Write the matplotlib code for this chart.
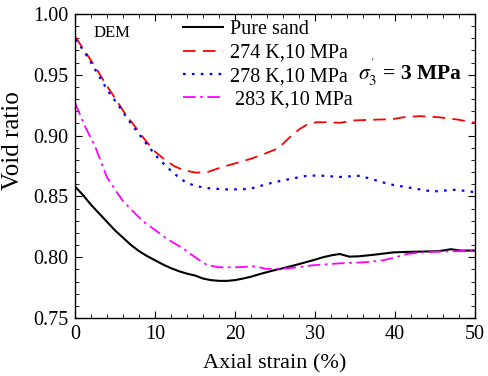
import numpy as np
import matplotlib
matplotlib.use("Agg")
import matplotlib.pyplot as plt
from matplotlib.ticker import MultipleLocator, FormatStrFormatter

plt.rcParams['font.family'] = ['Liberation Serif', 'DejaVu Serif']
plt.rcParams['mathtext.fontset'] = 'stix'

# Data (axial strain %, void ratio)
x_pure = [0, 1, 2, 3, 4, 5, 6, 7, 8, 9, 10, 11, 12, 13, 14, 15, 16, 17, 18, 19, 20,
          21, 22, 23, 24.7, 26, 27.5, 28.9, 30, 31, 32, 33.1, 34.3, 35.5, 37.3, 39.8, 41.5, 43.6, 45.5, 47, 48.2, 50]
y_pure = [0.858, 0.851, 0.843, 0.836, 0.829, 0.822, 0.816, 0.810, 0.805, 0.801, 0.7975, 0.794, 0.791, 0.7885, 0.7865, 0.785,
          0.7825, 0.7812, 0.7806, 0.7806, 0.7812, 0.7825, 0.784, 0.786, 0.789, 0.791, 0.7935, 0.796, 0.798, 0.8, 0.8015,
          0.8027, 0.8005, 0.8008, 0.802, 0.804, 0.8044, 0.8047, 0.805, 0.8066, 0.8055, 0.8055]

x_274 = [0, 1.25, 2.5, 3.75, 5, 6.25, 7.5, 8.75, 10, 11.25, 12.5, 13.75, 15.2, 16.7, 18.3, 20.8, 22,
         23.5, 25, 25.6, 26.9, 28, 29, 30.2, 31.5, 33.1, 35, 37.2, 39.7, 41, 43.1, 45.6, 48, 50]
y_274 = [0.9813, 0.969, 0.9567, 0.943, 0.9307, 0.918, 0.9073, 0.8964, 0.8868, 0.880, 0.8745, 0.8712, 0.8695, 0.8703,
         0.874, 0.8786, 0.881, 0.8845, 0.8885, 0.8907, 0.899, 0.905, 0.909, 0.911, 0.911, 0.9105, 0.9125, 0.913,
         0.9135, 0.915, 0.916, 0.915, 0.913, 0.9105]

x_278 = [0, 0.4, 1.67, 2.9, 4.17, 5.4, 6.67, 7.9, 9.17, 10.4, 11.67, 12.9, 13.75, 15, 16.7, 18.75, 20.8, 22,
         24.8, 27, 29, 30.5, 33.1, 35.6, 37.5, 39.3, 42, 44.7, 47.6, 50]
y_278 = [0.979, 0.976, 0.9636, 0.9498, 0.936, 0.925, 0.9128, 0.902, 0.891, 0.8813, 0.873, 0.866, 0.862, 0.8586,
         0.8567, 0.8558, 0.8558, 0.8565, 0.8615, 0.8645, 0.867, 0.8672, 0.866, 0.867, 0.8635, 0.860, 0.857, 0.854,
         0.8555, 0.8535]

x_283 = [0, 1.25, 2.5, 3.96, 5, 6, 7.29, 8.5, 10, 11.5, 13.5, 15, 16.5, 18, 19.8, 21, 22.6, 23.8, 25,
         26.8, 29.7, 33.1, 36.5, 38.5, 39.8, 41.5, 43.5, 45.7, 48, 50]
y_283 = [0.9266, 0.9073, 0.891, 0.866, 0.8555, 0.846, 0.8374, 0.8295, 0.8224, 0.815, 0.8073, 0.8, 0.7936, 0.7918,
         0.7917, 0.792, 0.7926, 0.7905, 0.7905, 0.791, 0.7934, 0.795, 0.796, 0.7975, 0.7995, 0.8027, 0.804, 0.8047,
         0.805, 0.806]

labels = ['Pure sand', '274 K,10 MPa', '278 K,10 MPa', ' 283 K,10 MPa']

fig = plt.figure(figsize=(4.88, 3.76), dpi=100)
ax = fig.add_axes([0.154, 0.154, 0.819, 0.809])

ax.plot(x_pure, y_pure, color='black', lw=1.5, label=labels[0])
ax.plot(x_274, y_274, color='red', lw=1.3, dashes=(7, 4), label=labels[1])
ax.plot(x_278, y_278, color='blue', lw=1.6, dashes=(1.2, 2.8), label=labels[2])
ax.plot(x_283, y_283, color='magenta', lw=1.3, dashes=(7, 2.5, 1.5, 2.5), label=labels[3])

ax.set_xlim(0, 50)
ax.set_ylim(0.75, 1.00)
ax.xaxis.set_major_locator(MultipleLocator(10))
ax.xaxis.set_minor_locator(MultipleLocator(2))
ax.yaxis.set_major_locator(MultipleLocator(0.05))
ax.yaxis.set_minor_locator(MultipleLocator(0.01))
ax.yaxis.set_major_formatter(FormatStrFormatter('%.2f'))
ax.tick_params(which='both', direction='in', top=True, right=True, labelsize=14.5)
ax.tick_params(which='major', length=5, pad=5)
ax.tick_params(which='minor', length=3)
for s in ax.spines.values():
    s.set_linewidth(1.0)

ax.set_xlabel('Axial strain (%)', fontsize=16)
ax.set_ylabel('Void ratio', fontsize=18)
ax.xaxis.set_label_coords(0.5, -0.12)
ax.yaxis.set_label_coords(-0.1275, 0.582)

ax.text(0.045, 0.924, 'DEM', transform=ax.transAxes, fontsize=12, va='baseline')
ax.text(0.7075, 0.783, r"$\sigma_3^{'}$ = 3 MPa", transform=ax.transAxes,
        fontsize=15.5, fontweight='bold', va='baseline')

ax.legend(loc='upper left', bbox_to_anchor=(0.27, 0.979), frameon=False,
          borderpad=0, borderaxespad=0, fontsize=14.5, handlelength=2.0,
          handletextpad=0.35, labelspacing=0.21)

fig.savefig('out.png', dpi=100)
